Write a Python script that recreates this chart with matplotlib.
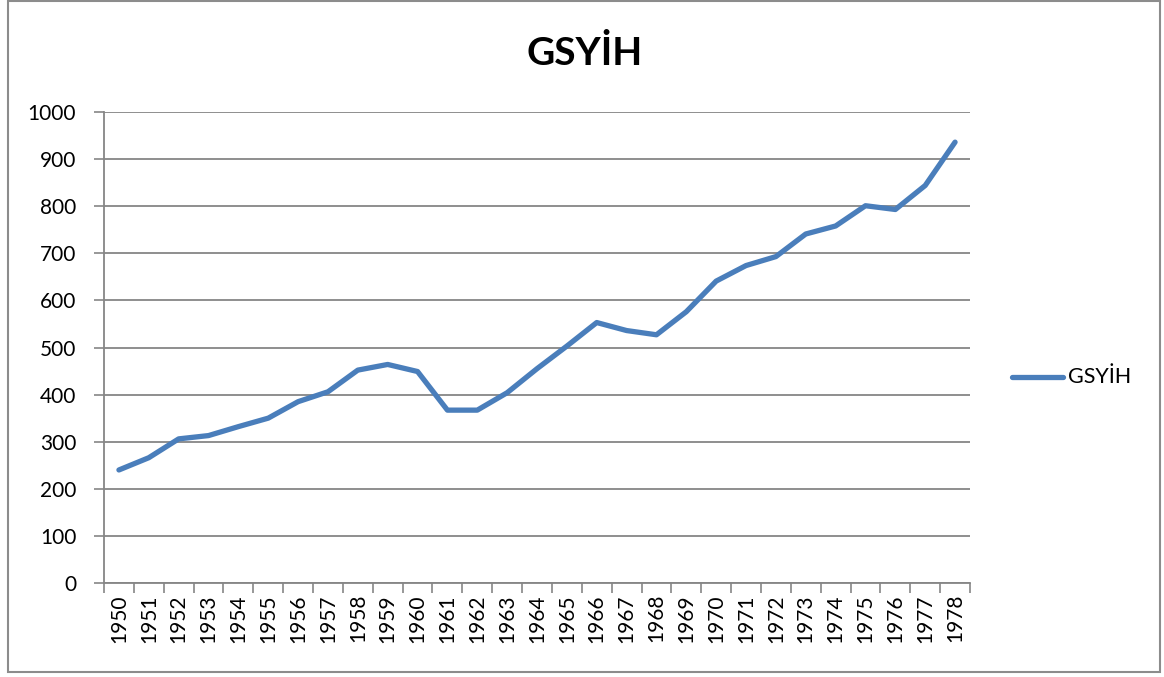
import matplotlib
matplotlib.use("Agg")
import matplotlib.pyplot as plt
from matplotlib.patches import Rectangle
from matplotlib.lines import Line2D

years = [str(y) for y in range(1950, 1979)]
gsyih = [240, 266, 306, 313, 332, 350, 385, 406, 452, 464, 449, 367, 367, 404,
         455, 503, 553, 536, 527, 576, 641, 674, 693, 741, 758, 801, 793, 844, 936]
y_ticks = [0, 100, 200, 300, 400, 500, 600, 700, 800, 900, 1000]
title = "GSYİH"
series_name = "GSYİH"

plt.rcParams['font.family'] = ['Lato', 'DejaVu Sans']

W, H = 1164, 677
fig = plt.figure(figsize=(W / 100, H / 100), dpi=100)
fig.patch.set_facecolor('white')

# outer chart border
fig.add_artist(Rectangle((8 / W, (H - 672) / H), (1160 - 8) / W, (672 - 1) / H,
                         transform=fig.transFigure, fill=False,
                         edgecolor='#8c8c8c', linewidth=1.5))

left, right, top, bottom = 104, 970, 112, 583
ax = fig.add_axes([left / W, (H - bottom) / H, (right - left) / W, (bottom - top) / H])

x = list(range(len(years)))
color = '#4A7EBB'
ax.plot(x, gsyih, color=color, linewidth=3.8, solid_joinstyle='round',
        solid_capstyle='round', zorder=3)

ax.set_xlim(-0.5, len(years) - 0.5)
ax.set_ylim(0, 1000)
ax.set_yticks(y_ticks)
ax.set_yticklabels([str(v) for v in y_ticks], fontsize=15)
ax.set_xticks(x)
ax.set_xticklabels(years, rotation=90, fontsize=15)
ax.tick_params(axis='x', length=0, pad=8)
ax.set_xticks([i - 0.5 for i in range(len(years) + 1)], minor=True)
ax.tick_params(axis='x', which='minor', length=7, color='#868686', width=1.2)
ax.tick_params(axis='y', length=7, color='#868686', width=1.2, pad=13)

ax.grid(axis='y', color='#868686', linewidth=1.3)
ax.set_axisbelow(True)
for s in ['top', 'right']:
    ax.spines[s].set_visible(False)
for s in ['left', 'bottom']:
    ax.spines[s].set_color('#868686')
    ax.spines[s].set_linewidth(1.3)

fig.text(585 / W, 1 - 53 / H, title, ha='center', va='center',
         fontsize=28, fontweight='bold')

# legend
fig.add_artist(Line2D([1012 / W, 1063 / W], [1 - 377 / H, 1 - 377 / H],
                      transform=fig.transFigure, color=color, linewidth=3.8,
                      solid_capstyle='round'))
fig.text(1068 / W, 1 - 377 / H, series_name, ha='left', va='center', fontsize=15.5)

fig.savefig('out.png', dpi=100)
